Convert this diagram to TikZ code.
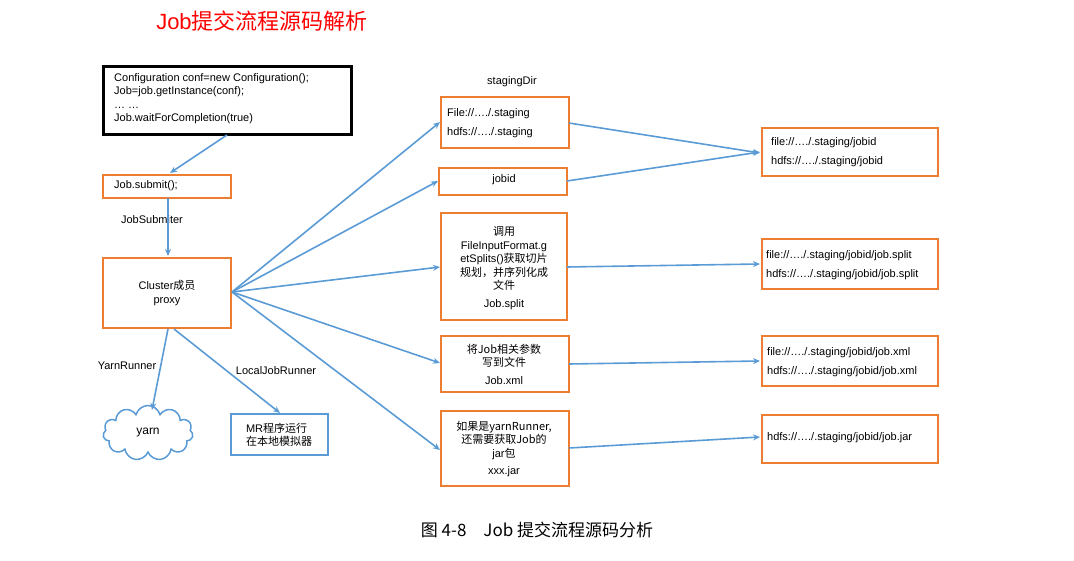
\documentclass[tikz,border=0pt]{standalone}
\usepackage{fontspec}
\setmainfont{Liberation Sans}
\newfontfamily\cjk{Noto Sans CJK SC}
\newfontfamily\serifcjk{Noto Sans CJK SC}
\usetikzlibrary{shapes.symbols,arrows.meta}
\definecolor{og}{RGB}{237,125,49}
\definecolor{bl}{RGB}{91,155,213}
\begin{document}
\begin{tikzpicture}[x=1pt,y=-1pt,
  ob/.style={draw=og,line width=2.2pt},
  arr/.style={draw=bl,line width=1.6pt,-{Stealth[length=7pt,width=6pt]}},
  tx/.style={font=\fontsize{11}{13.5}\selectfont,align=center,inner sep=0}]
\useasboundingbox (0,0) rectangle (1074,561);
\node[font=\fontsize{22}{26}\selectfont,text=red] (title) at (262,21) {Job\cjk{提交流程源码解析}};
\draw[line width=3pt] (103,67) rectangle (351,135);
\coordinate (codeb) at (227,135);
\node[tx,align=left,anchor=north west] (code) at (114,73) {Configuration conf=new Configuration();\\Job=job.getInstance(conf);\\… …\\Job.waitForCompletion(true)};
\draw[ob] (103,175) rectangle (231,198);
\node[tx,anchor=west] (sub) at (114,186) {Job.submit();};
\node[tx] (js) at (152,220) {JobSubmiter};
\draw[ob] (103,258) rectangle (231,328);
\node[tx] (cl) at (167,293) {Cluster\cjk{成员}\\proxy};
\node[cloud,draw=bl,line width=1.5pt,cloud puffs=11,minimum width=90pt,minimum height=55pt,aspect=1.7,font=\fontsize{12}{14}\selectfont] (yarn) at (148,433) {yarn};
\draw[draw=bl,line width=2.2pt] (231,414) rectangle (328,455);
\node[tx,align=left] (mr) at (279,435) {MR\cjk{程序运行}\\\cjk{在本地模拟器}};
\node[tx] (yr) at (127,366) {YarnRunner};
\node[tx] (lj) at (276,371) {LocalJobRunner};
\node[tx] (sd) at (512,82) {stagingDir};
% middle boxes
\draw[ob] (441,97) rectangle (569,148);
\node[tx,align=left,anchor=west] (st) at (447,123) {File://…./.staging\\[5pt]hdfs://…./.staging};
\draw[ob] (439,168) rectangle (567,195);
\node[tx] (jid) at (504,180) {jobid};
\draw[ob] (441,213) rectangle (567,320);
\node[tx] (sp) at (504,268) {\cjk{调用}\\FileInputFormat.g\\etSplits()\cjk{获取切片}\\\cjk{规划，并序列化成}\\\cjk{文件}\\[4pt]Job.split};
\draw[ob] (441,336) rectangle (569,392);
\node[tx] (xm) at (504,364) {\cjk{将}Job\cjk{相关参数}\\\cjk{写到文件}\\[4pt]Job.xml};
\draw[ob] (441,411) rectangle (569,486);
\node[tx] (ja) at (504,449) {\cjk{如果是}yarnRunner,\\\cjk{还需要获取}Job\cjk{的}\\jar\cjk{包}\\[4pt]xxx.jar};
% right boxes
\draw[ob] (762,128) rectangle (938,176);
\node[tx,align=left,anchor=west] (r1) at (771,152) {file://…./.staging/jobid\\[6pt]hdfs://…./.staging/jobid};
\draw[ob] (762,239) rectangle (938,289);
\node[tx,align=left,anchor=west] (r2) at (766,265) {file://…./.staging/jobid/job.split\\[6pt]hdfs://…./.staging/jobid/job.split};
\draw[ob] (762,336) rectangle (938,386);
\node[tx,align=left,anchor=west] (r3) at (767,362) {file://…./.staging/jobid/job.xml\\[6pt]hdfs://…./.staging/jobid/job.xml};
\draw[ob] (762,415) rectangle (938,463);
\node[tx,anchor=west] (r4) at (767,438) {hdfs://…./.staging/jobid/job.jar};
% arrows
\coordinate (cr) at (232,292);
\draw[arr] (codeb) -- (170,173);
\draw[arr] (168,198) -- (168,256);
\draw[arr] (cr) -- (440,122);
\draw[arr] (cr) -- (438,181);
\draw[arr] (cr) -- (440,267);
\draw[arr] (cr) -- (440,363);
\draw[arr] (cr) -- (440,450);
\draw[arr] (168,329) -- (152,410);
\draw[arr] (174,329) -- (280,413);
\draw[arr] (569,123) -- (760,153);
\draw[arr] (567,181) -- (760,152);
\draw[arr] (567,267) -- (760,264);
\draw[arr] (569,364) -- (760,361);
\draw[arr] (569,448) -- (760,437);
\node[font=\fontsize{17}{20}\selectfont] (cap) at (537,530) {\serifcjk{图} 4-8\quad Job \serifcjk{提交流程源码分析}};
\end{tikzpicture}
\end{document}
